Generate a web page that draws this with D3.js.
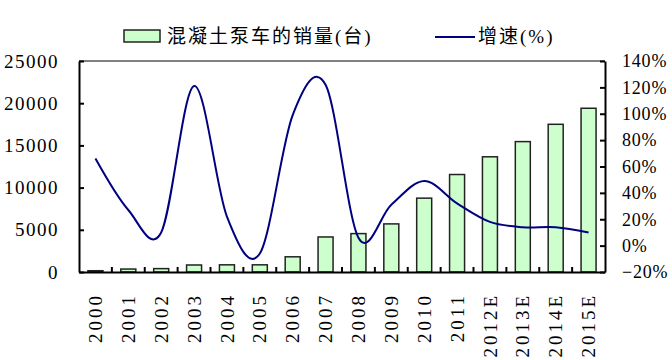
<!DOCTYPE html>
<html>
<head>
<meta charset="utf-8">
<script src="https://cdn.jsdelivr.net/npm/d3@7"></script>
<style>
  body { margin: 0; background: #fff; }
  text { font-family: "Liberation Serif", "Noto Sans CJK SC", serif; fill: #000; }
</style>
</head>
<body>
<svg id="chart" width="672" height="360"></svg>
<script>
var years = ['2000', '2001', '2002', '2003', '2004', '2005', '2006', '2007',
    '2008', '2009', '2010', '2011', '2012E', '2013E', '2014E', '2015E'];
var sales = [150, 350, 400, 830, 850, 850, 1800, 4150,
    4550, 5700, 8750, 11550, 13650, 15450, 17500, 19400];
var growth = [66, 27, 10, 121, 22, -6, 99, 122,
    6, 31, 49, 32, 18, 14, 14, 10];
var leftTicks = [0, 5000, 10000, 15000, 20000, 25000];
var rightTicks = [-20, 0, 20, 40, 60, 80, 100, 120, 140];

var svg = d3.select('#chart');
var plotLeft = 79, plotRight = 605, plotTop = 61, plotBottom = 272;

var x = d3.scaleBand()
    .domain(years)
    .range([plotLeft, plotRight]);

var yL = d3.scaleLinear()
    .domain([0, 25000])
    .range([plotBottom, plotTop]);

var yR = d3.scaleLinear()
    .domain([-20, 140])
    .range([plotBottom, plotTop]);

// bars
svg.append('g')
    .selectAll('rect')
    .data(sales)
    .enter()
    .append('rect')
    .attr('x', function (d, i) { return x(years[i]) + x.bandwidth() / 2 - 7.5; })
    .attr('y', function (d) { return yL(d); })
    .attr('width', 15)
    .attr('height', function (d) { return plotBottom - yL(d); })
    .attr('fill', '#ccffcc')
    .attr('stroke', '#222')
    .attr('stroke-width', 1.5);

// growth line
var line = d3.line()
    .x(function (d, i) { return x(years[i]) + x.bandwidth() / 2; })
    .y(function (d) { return yR(d); })
    .curve(d3.curveCardinal.tension(0));

svg.append('path')
    .datum(growth)
    .attr('d', line)
    .attr('fill', 'none')
    .attr('stroke', '#000080')
    .attr('stroke-width', 2);

// frame
svg.append('line')
    .attr('x1', plotLeft).attr('x2', plotRight)
    .attr('y1', plotTop).attr('y2', plotTop)
    .attr('stroke', '#808080').attr('stroke-width', 2);

var axisL = svg.append('g')
    .attr('transform', 'translate(' + plotLeft + ',0)')
    .call(d3.axisLeft(yL).tickValues(leftTicks).tickSizeInner(-5).tickSizeOuter(0).tickFormat(d3.format('d')));

var axisR = svg.append('g')
    .attr('transform', 'translate(' + plotRight + ',0)')
    .call(d3.axisRight(yR).tickValues(rightTicks).tickSizeInner(-5).tickSizeOuter(0).tickFormat(function (d) { return (d < 0 ? '\u2212' + (-d) : d) + '%'; }));

var axisB = svg.append('g')
    .attr('transform', 'translate(0,' + plotBottom + ')')
    .call(d3.axisBottom(x).tickSizeInner(0).tickSizeOuter(0));

// category separators
svg.append('g')
    .selectAll('line')
    .data(years.slice(1))
    .enter()
    .append('line')
    .attr('x1', function (d) { return x(d); })
    .attr('x2', function (d) { return x(d); })
    .attr('y1', plotBottom)
    .attr('y2', plotBottom - 5)
    .attr('stroke', '#000')
    .attr('stroke-width', 2);

svg.selectAll('.domain').attr('stroke', '#000').attr('stroke-width', 2);
svg.selectAll('.tick line').attr('stroke', '#000').attr('stroke-width', 2);
svg.selectAll('.tick text')
    .style('font-size', '19px')
    .style('letter-spacing', '1.5px')
    .style('font-family', '"Liberation Serif", serif');

axisL.selectAll('text').attr('x', -20);

axisR.selectAll('text')
    .attr('x', 17)
    .attr('text-anchor', 'start')
    .style('font-size', '18px')
    .style('letter-spacing', '0.8px');

axisB.selectAll('text')
    .attr('transform', 'rotate(-90)')
    .attr('x', -21)
    .attr('y', 0)
    .attr('dy', '0.35em')
    .attr('text-anchor', 'end')
    .style('letter-spacing', '3px');

// legend
var legend = svg.append('g');
legend.append('rect')
    .attr('x', 124).attr('y', 30)
    .attr('width', 36).attr('height', 12)
    .attr('fill', '#ccffcc').attr('stroke', '#222').attr('stroke-width', 1.5);
legend.append('text')
    .attr('x', 167).attr('y', 36)
    .attr('dy', '0.35em')
    .style('font-size', '19px')
    .style('letter-spacing', '2px')
    .text('混凝土泵车的销量(台)');
legend.append('line')
    .attr('x1', 435).attr('x2', 475)
    .attr('y1', 37).attr('y2', 37)
    .attr('stroke', '#000080').attr('stroke-width', 2);
legend.append('text')
    .attr('x', 478).attr('y', 36)
    .attr('dy', '0.35em')
    .style('font-size', '19px')
    .style('letter-spacing', '2px')
    .text('增速(%)');
</script>
</body>
</html>
